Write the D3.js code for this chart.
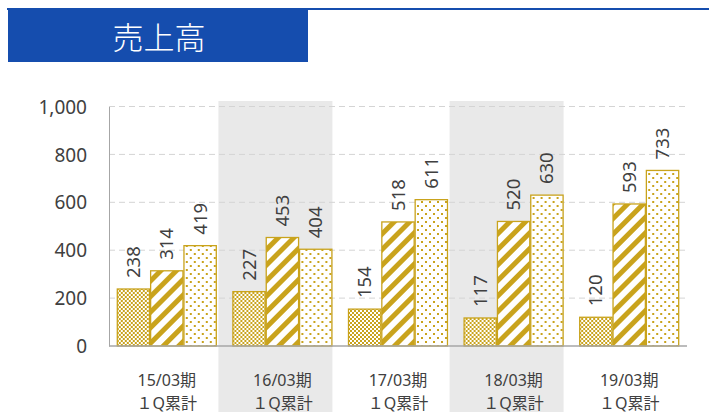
<!DOCTYPE html>
<html>
<head>
  <meta charset="utf-8">
  <title>売上高</title>
  <style>
    body { margin: 0; background: #fff; }
    svg { display: block; font-family: "Noto Sans", "Noto Sans CJK JP", sans-serif; }
    .axis text { font-size: 19px; fill: #404040; font-family: "Noto Sans", sans-serif; }
    .val { font-size: 18.5px; fill: #404040; }
    .cat { font-size: 16px; fill: #404040; text-anchor: middle; }
  </style>
  <script src="https://d3js.org/d3.v7.min.js"></script>
</head>
<body>
  <script>
    // データ
    var periods = ['15/03期', '16/03期', '17/03期', '18/03期', '19/03期'];
    var subLabel = '１Q累計';
    var series1 = [238, 227, 154, 117, 120];
    var series2 = [314, 453, 518, 520, 593];
    var series3 = [419, 404, 611, 630, 733];
    var yTicks = [0, 200, 400, 600, 800, 1000];
    var shaded = [1, 3];   // 背景グレーの期

    var width = 709, height = 419;
    var gold = '#c9a31c';
    var svg = d3.select('body').append('svg')
      .attr('width', width)
      .attr('height', height);

    // パターン
    var defs = svg.append('defs');
    var p1 = defs.append('pattern').attr('id', 'checker')
      .attr('patternUnits', 'userSpaceOnUse').attr('width', 4).attr('height', 4);
    p1.append('rect').attr('width', 4).attr('height', 4).attr('fill', '#fff');
    p1.append('rect').attr('width', 2).attr('height', 2).attr('fill', gold);
    p1.append('rect').attr('x', 2).attr('y', 2).attr('width', 2).attr('height', 2).attr('fill', gold);

    var p2 = defs.append('pattern').attr('id', 'stripe')
      .attr('patternUnits', 'userSpaceOnUse').attr('width', 11).attr('height', 11)
      .attr('patternTransform', 'rotate(45)');
    p2.append('rect').attr('width', 11).attr('height', 11).attr('fill', '#fff');
    p2.append('rect').attr('width', 5).attr('height', 11).attr('fill', gold);

    var p3 = defs.append('pattern').attr('id', 'dots')
      .attr('patternUnits', 'userSpaceOnUse').attr('width', 8).attr('height', 8);
    p3.append('rect').attr('width', 8).attr('height', 8).attr('fill', '#fff');
    p3.append('rect').attr('x', 1).attr('y', 1).attr('width', 2).attr('height', 2).attr('fill', gold);
    p3.append('rect').attr('x', 5).attr('y', 5).attr('width', 2).attr('height', 2).attr('fill', gold);

    // タイトル
    svg.append('rect').attr('x', 7).attr('y', 8).attr('width', 702).attr('height', 2).attr('fill', '#154dae');
    svg.append('rect').attr('x', 8).attr('y', 8).attr('width', 300).attr('height', 54).attr('fill', '#154dae');
    svg.append('text').attr('x', 159).attr('y', 49)
      .attr('text-anchor', 'middle').attr('fill', '#fff')
      .style('font-family', '"Noto Sans CJK JP", sans-serif')
      .style('font-weight', 300)
      .style('font-size', '31px').text('売上高');

    // 比例尺
    var x0 = d3.scaleBand().domain(d3.range(periods.length))
      .range([109, 687]).paddingInner(0.135).paddingOuter(0.0675);
    var keys = [0, 1, 2];
    var x1 = d3.scaleBand().domain(keys).range([0, x0.bandwidth()]);
    var y = d3.scaleLinear().domain([0, 1000]).range([346, 106.5]);

    // 背景の帯
    svg.selectAll('.band').data(shaded).enter().append('rect')
      .attr('x', function(i) { return x0(i) + x0.bandwidth() / 2 - 64; })
      .attr('y', 101).attr('width', 114).attr('height', 311)
      .attr('fill', '#e9e9e9');

    // グリッド
    svg.selectAll('.grid').data(yTicks.slice(1)).enter().append('line')
      .attr('x1', 109).attr('x2', 687)
      .attr('y1', function(d) { return y(d); }).attr('y2', function(d) { return y(d); })
      .attr('stroke', '#d4d4d4').attr('stroke-dasharray', '6,4');

    // Y軸
    var yAxis = d3.axisLeft(y).tickValues(yTicks).tickSize(0).tickPadding(22)
      .tickFormat(d3.format(','));
    var gy = svg.append('g').attr('class', 'axis').attr('transform', 'translate(109,0)').call(yAxis);
    gy.select('.domain').attr('stroke', '#a6a6a6');
    gy.selectAll('text').attr('dy', '0.35em');

    // 棒
    var fills = ['url(#checker)', 'url(#stripe)', 'url(#dots)'];
    var data = periods.map(function(p, i) { return [series1[i], series2[i], series3[i]]; });
    var groups = svg.selectAll('.grp').data(data).enter().append('g')
      .attr('transform', function(d, i) { return 'translate(' + x0(i) + ',0)'; });
    groups.selectAll('rect').data(function(d) { return d; }).enter().append('rect')
      .attr('x', function(d, k) { return x1(k) + 0.5; })
      .attr('y', function(d) { return y(d); })
      .attr('width', x1.bandwidth() - 1)
      .attr('height', function(d) { return y(0) - y(d); })
      .attr('fill', function(d, k) { return fills[k]; })
      .attr('stroke', gold).attr('stroke-width', 1.3);
    groups.selectAll('.val').data(function(d) { return d; }).enter().append('text')
      .attr('class', 'val')
      .attr('transform', function(d, k) {
        return 'translate(' + (x1(k) + x1.bandwidth() / 2 + 6.5) + ',' + (y(d) - 11) + ') rotate(-90)';
      })
      .text(function(d) { return d; });

    // X軸の線
    svg.append('line').attr('x1', 109).attr('x2', 687)
      .attr('y1', y(0)).attr('y2', y(0)).attr('stroke', '#a6a6a6').attr('stroke-width', 1.5);

    // カテゴリ
    var cats = svg.selectAll('.cat').data(periods).enter().append('text')
      .attr('class', 'cat')
      .attr('x', function(d, i) { return x0(i) + x0.bandwidth() / 2; });
    cats.append('tspan').attr('y', 386).text(function(d) { return d; });
    cats.append('tspan').attr('y', 409)
      .attr('x', function(d, i) { return x0(i) + x0.bandwidth() / 2; })
      .text(subLabel);
  </script>
</body>
</html>
